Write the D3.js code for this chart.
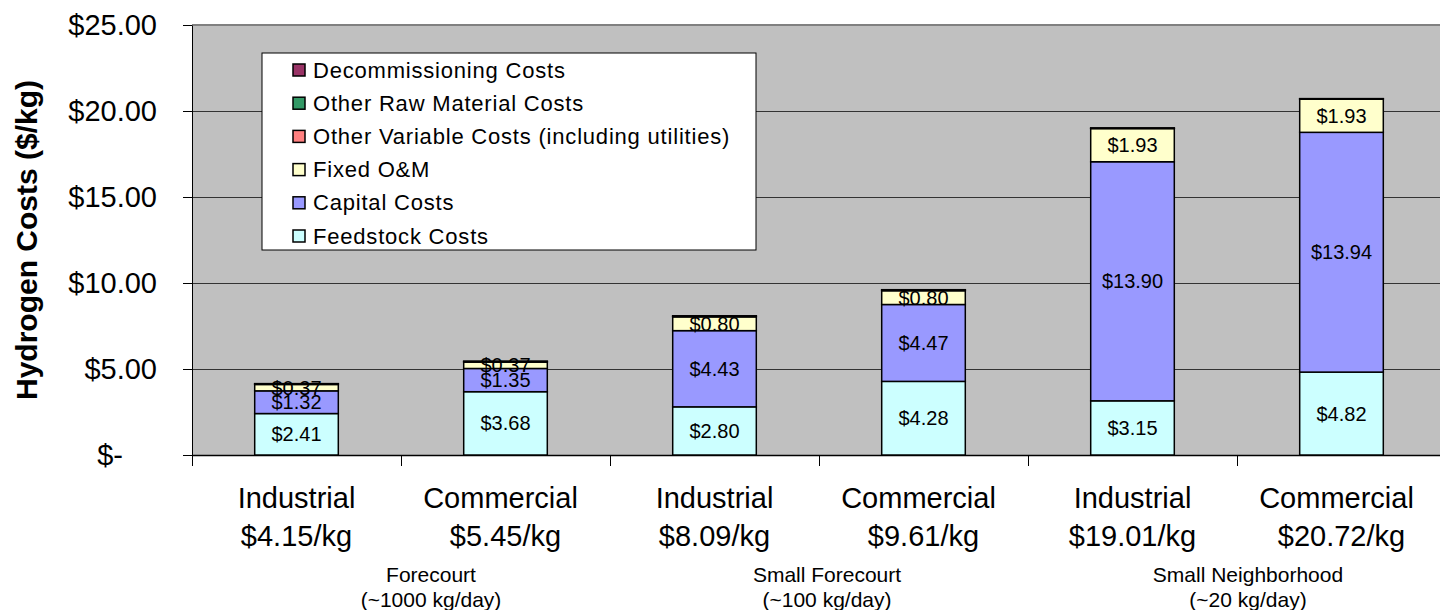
<!DOCTYPE html>
<html>
<head>
<meta charset="utf-8">
<script src="https://cdn.jsdelivr.net/npm/d3@7"></script>
<style>
  body { margin: 0; background: #fff; }
  svg { display: block; font-family: "Liberation Sans", Arial, sans-serif; }
</style>
</head>
<body>
<svg id="chart" width="1440" height="610"></svg>
<script>
// categories and their total cost labels
const categories = ["Industrial", "Commercial", "Industrial", "Commercial", "Industrial", "Commercial"];
const totals = [4.15, 5.45, 8.09, 9.61, 19.01, 20.72];
const groups = ["Forecourt", "Small Forecourt", "Small Neighborhood"];
const groupCapacity = ["(~1000 kg/day)", "(~100 kg/day)", "(~20 kg/day)"];

// series values ($/kg), bottom to top
const feedstock = [2.41, 3.68, 2.80, 4.28, 3.15, 4.82];
const capital = [1.32, 1.35, 4.43, 4.47, 13.90, 13.94];
const fixedOM = [0.37, 0.37, 0.80, 0.80, 1.93, 1.93];
const otherVariable = [0.03, 0.03, 0.04, 0.04, 0.01, 0.01];
const otherRaw = [0.01, 0.01, 0.01, 0.01, 0.01, 0.01];
const decommissioning = [0.01, 0.01, 0.01, 0.01, 0.01, 0.01];

const yTicks = [0, 5, 10, 15, 20, 25];

const seriesNames = ["Feedstock Costs", "Capital Costs", "Fixed O&M",
  "Other Variable Costs (including utilities)", "Other Raw Material Costs", "Decommissioning Costs"];
const seriesColors = ["#ccffff", "#9999ff", "#ffffcc", "#ff8080", "#339966", "#993366"];
const labelled = [true, true, true, false, false, false];

const seriesValues = [feedstock, capital, fixedOM, otherVariable, otherRaw, decommissioning];
const rows = categories.map((c, i) => {
  const r = { idx: i };
  seriesNames.forEach((s, k) => r[s] = seriesValues[k][i]);
  return r;
});
const stacked = d3.stack().keys(seriesNames)(rows);

const plotLeft = 192, plotRight = 1446, plotTop = 25, plotBottom = 455;
const svg = d3.select("#chart");

const x = d3.scaleBand()
  .domain(d3.range(categories.length))
  .range([plotLeft, plotRight])
  .paddingInner(0.6)
  .paddingOuter(0.3);
const xEdge = d3.scaleLinear().domain([0, categories.length]).range([plotLeft, plotRight]);
const y = d3.scaleLinear().domain([0, 25]).range([plotBottom, plotTop]);

// plot area
svg.append("rect")
  .attr("x", plotLeft).attr("y", plotTop)
  .attr("width", plotRight - plotLeft).attr("height", plotBottom - plotTop)
  .attr("fill", "#c0c0c0");

// gridlines
svg.append("g")
  .attr("transform", `translate(${plotLeft},0)`)
  .call(d3.axisLeft(y).tickValues(yTicks.slice(1, -1)).tickSize(-(plotRight - plotLeft)).tickFormat(""))
  .call(g => g.select(".domain").remove())
  .selectAll("line").attr("stroke", "#333").attr("stroke-width", 1);

svg.append("line")
  .attr("x1", plotLeft).attr("x2", plotRight)
  .attr("y1", y(25)).attr("y2", y(25))
  .attr("stroke", "#808080").attr("stroke-width", 2);

// y axis
const yAxis = svg.append("g")
  .attr("transform", `translate(${plotLeft},0)`)
  .call(d3.axisLeft(y).tickValues(yTicks).tickSizeInner(9).tickSizeOuter(0).tickPadding(26)
    .tickFormat(d => d === 0 ? "$-" : "$" + d3.format(".2f")(d)));
yAxis.select(".domain").attr("stroke", "#000");
yAxis.selectAll("line").attr("stroke", "#000");
yAxis.selectAll("text")
  .attr("fill", "#000")
  .style("font-size", "29px")
  .attr("dx", d => d === 0 ? -34 : 0);

// x axis with ticks on category boundaries
const xAxis = svg.append("g")
  .attr("transform", `translate(0,${plotBottom})`)
  .call(d3.axisBottom(xEdge).tickValues(d3.range(categories.length + 1)).tickSizeInner(11).tickSizeOuter(0).tickFormat(""));
xAxis.selectAll("line").attr("stroke", "#000");
xAxis.select(".domain").attr("stroke", "#000").attr("stroke-width", 1.5);

// stacked bars
const layer = svg.selectAll(".layer")
  .data(stacked)
  .enter().append("g")
  .attr("class", "layer")
  .attr("fill", (d, i) => seriesColors[i]);

layer.selectAll("rect")
  .data(d => d)
  .enter().append("rect")
  .attr("x", d => x(d.data.idx))
  .attr("width", x.bandwidth())
  .attr("y", d => y(d[1]))
  .attr("height", d => y(d[0]) - y(d[1]))
  .attr("stroke", "#000")
  .attr("stroke-width", 1.5);

// value labels
stacked.forEach((s, k) => {
  if (!labelled[k]) return;
  svg.append("g").selectAll("text")
    .data(s)
    .enter().append("text")
    .attr("x", d => x(d.data.idx) + x.bandwidth() / 2)
    .attr("y", d => (y(d[0]) + y(d[1])) / 2)
    .attr("text-anchor", "middle")
    .attr("dominant-baseline", "central")
    .style("font-size", "20px")
    .attr("fill", "#000")
    .text(d => "$" + d3.format(".2f")(d[1] - d[0]));
});

// category labels
const catLabels = svg.append("g").selectAll("g")
  .data(categories)
  .enter().append("g");
catLabels.append("text")
  .attr("x", (d, i) => x(i) + x.bandwidth() / 2)
  .attr("y", 508)
  .attr("text-anchor", "middle")
  .attr("dx", d => d === "Commercial" ? -5 : 0)
  .style("font-size", "29px")
  .text(d => d);
catLabels.append("text")
  .attr("x", (d, i) => x(i) + x.bandwidth() / 2)
  .attr("y", 546)
  .attr("text-anchor", "middle")
  .style("font-size", "29px")
  .text((d, i) => "$" + d3.format(".2f")(totals[i]) + "/kg");

// group labels
const groupShift = [30, 8, 11];
const grp = svg.append("g").selectAll("g")
  .data(groups)
  .enter().append("g");
grp.append("text")
  .attr("x", (d, i) => xEdge(i * 2 + 1) + groupShift[i])
  .attr("y", 582)
  .attr("text-anchor", "middle")
  .style("font-size", "21px")
  .text(d => d);
grp.append("text")
  .attr("x", (d, i) => xEdge(i * 2 + 1) + groupShift[i])
  .attr("y", 607)
  .attr("text-anchor", "middle")
  .style("font-size", "21px")
  .text((d, i) => groupCapacity[i]);

// y axis title
svg.append("text")
  .attr("transform", "translate(37,240) rotate(-90)")
  .attr("text-anchor", "middle")
  .style("font-size", "30px")
  .style("font-weight", "bold")
  .text("Hydrogen Costs ($/kg)");

// legend (top series first)
const legend = svg.append("g").attr("transform", "translate(262,53)");
legend.append("rect")
  .attr("width", 494).attr("height", 197)
  .attr("fill", "#fff").attr("stroke", "#000").attr("stroke-width", 1);
const legendOrder = d3.range(seriesNames.length).reverse();
const items = legend.selectAll(".item")
  .data(legendOrder)
  .enter().append("g")
  .attr("transform", (d, i) => `translate(31,${17 + i * 33.2})`);
items.append("rect")
  .attr("x", 0).attr("y", -6)
  .attr("width", 12).attr("height", 12)
  .attr("fill", d => seriesColors[d])
  .attr("stroke", "#000").attr("stroke-width", 1.5);
items.append("text")
  .attr("x", 20).attr("y", 0)
  .attr("dominant-baseline", "central")
  .style("font-size", "22px")
  .style("letter-spacing", "0.8px")
  .text(d => seriesNames[d]);
</script>
</body>
</html>
